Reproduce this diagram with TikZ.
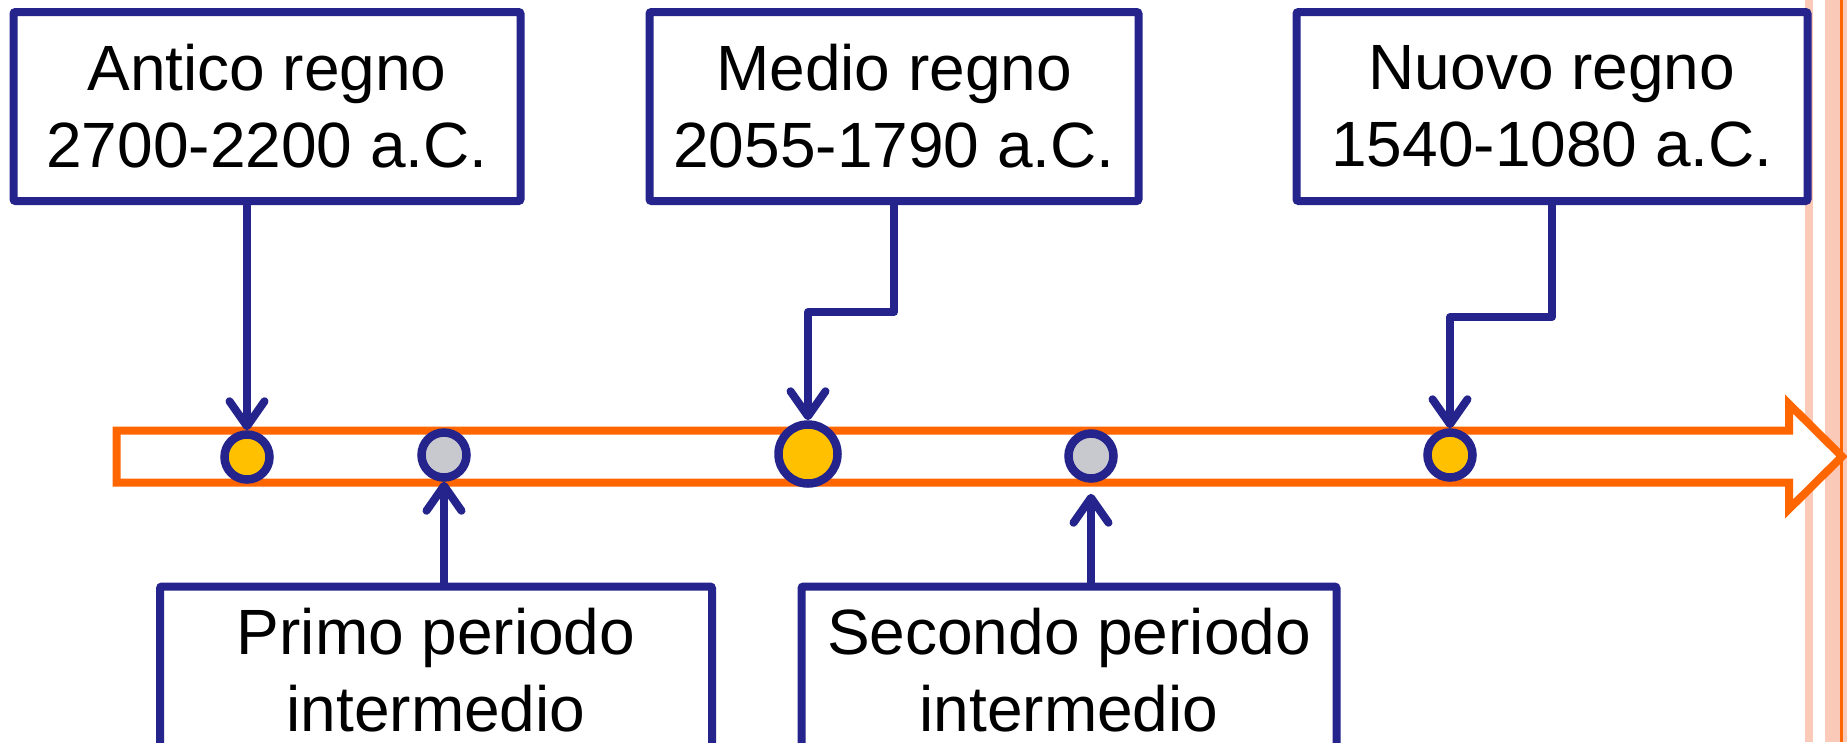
\documentclass[tikz,border=0pt]{standalone}
\usepackage{fontspec}
\setmainfont{Liberation Sans}
\usetikzlibrary{arrows.meta, calc}
\definecolor{navy}{RGB}{36,36,140}
\definecolor{timeorange}{RGB}{255,102,0}
\definecolor{dotyellow}{RGB}{255,192,0}
\definecolor{dotgrey}{RGB}{200,201,206}
\definecolor{stripe}{RGB}{251,201,183}
\tikzset{
	erabox/.style={draw=navy, line width=8pt, fill=white, rounded corners=2pt, align=center, inner sep=0pt, font=\fontsize{64}{77}\selectfont},
	dot/.style={circle, draw=navy, line width=8.5pt, inner sep=0pt, minimum size=45pt},
	pointer/.style={draw=navy, line width=8pt, line join=round, -{Straight Barb[length=25pt,width=35pt,round]}}
}

\begin{document}
\begin{tikzpicture}[x=1pt,y=-1pt]
				\useasboundingbox (0,0) rectangle (1847,742);
				\fill[stripe] (1805,0) rectangle (1813,742);
				\fill[stripe] (1825,0) rectangle (1847,742);
				\draw[timeorange, line width=2.5pt] (1841.5,0) -- (1841.5,742);
				\draw[timeorange, line width=8pt, fill=white] (116.5,430.5) -- (1789,430.5) -- (1789,404) -- (1842,456.5) -- (1789,509) -- (1789,482.5) -- (116.5,482.5) -- cycle;
				\node[dot, fill=dotyellow] (antdot) at (247,457) {};
				\node[dot, fill=dotgrey] (primdot) at (444,455) {};
				\node[dot, fill=dotyellow, minimum size=59pt] (meddot) at (808,454) {};
				\node[dot, fill=dotgrey] (secdot) at (1091,456) {};
				\node[dot, fill=dotyellow] (nuodot) at (1450,455) {};
				\node[erabox, minimum width=507pt, minimum height=189pt] (antico) at (267,106.5) {Antico regno\\2700-2200 a.C.};
				\node[erabox, minimum width=489pt, minimum height=189pt] (medio) at (894,106.5) {Medio regno\\2055-1790 a.C.};
				\node[erabox, minimum width=511pt, minimum height=189pt] (nuovo) at (1552,106.5) {Nuovo regno\\1540-1080 a.C.};
				\node[erabox, anchor=north, minimum width=552pt, inner ysep=22pt] (primo) at (436,582.5) {Primo periodo\\intermedio};
				\node[erabox, anchor=north, minimum width=535pt, inner ysep=22pt] (secondo) at (1069,582.5) {Secondo periodo\\intermedio};
				\coordinate (medbend) at (808,312);
				\coordinate (nuobend) at (1450,317);
				\draw[pointer] (antdot.north |- antico.south) -- (antdot.north);
				\draw[pointer] (medio.south) |- (medbend) -- (meddot.north);
				\draw[pointer] (nuovo.south) |- (nuobend) -- (nuodot.north);
				\draw[pointer] (primdot.south |- primo.north) -- (primdot.south);
				\draw[pointer, shorten >=11pt] (secdot.south |- secondo.north) -- (secdot.south);
\end{tikzpicture}
\end{document}
